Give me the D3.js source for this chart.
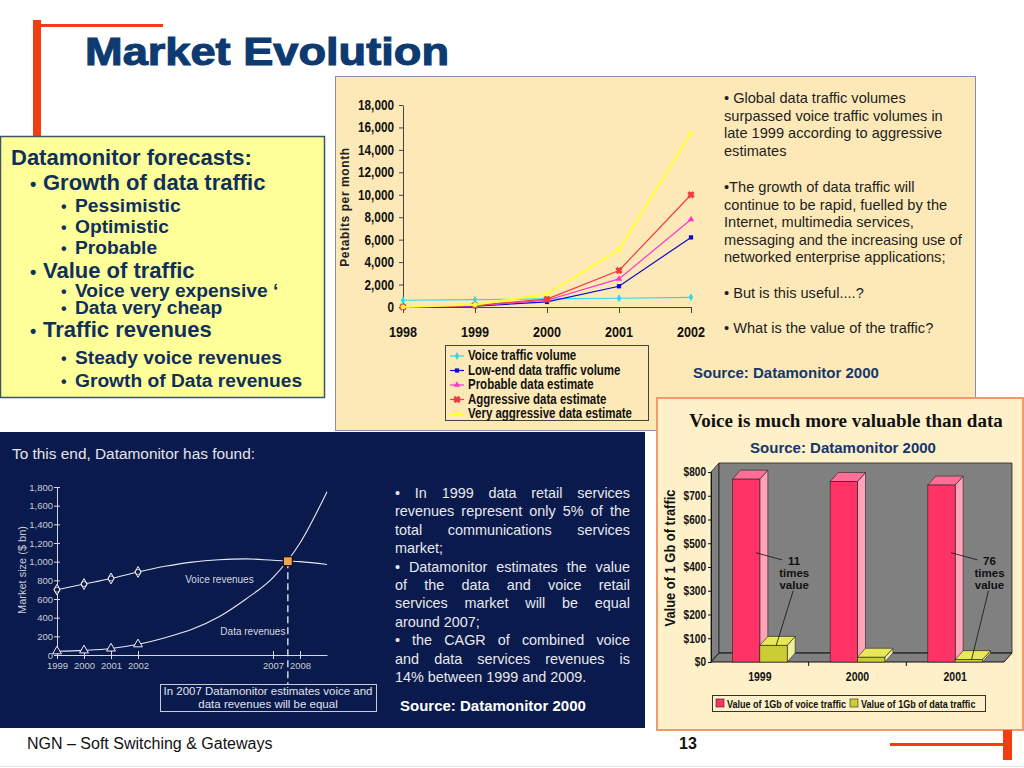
<!DOCTYPE html>
<html>
<head>
<meta charset="utf-8">
<script src="https://cdnjs.cloudflare.com/ajax/libs/d3/7.8.5/d3.min.js"></script>
<style>
body { margin: 0; background: #fff; }
svg { display: block; font-family: Arial, "Liberation Sans", sans-serif; }
.narrow { font-family: "Liberation Sans", Arial, sans-serif; font-weight: bold; }
</style>
</head>
<body>
<script>
// ---- traffic volumes (Petabits per month)
const trafficYears = [1998, 1999, 2000, 2001, 2002];
const voiceTraffic = [600, 660, 720, 780, 860];
const lowEndTraffic = [0, 80, 450, 1850, 6200];
const probableTraffic = [0, 120, 600, 2500, 7800];
const aggressiveTraffic = [0, 150, 700, 3250, 10000];
const veryAggressiveTraffic = [0, 200, 1150, 5100, 15500];
const trafficNames = ["Voice traffic volume", "Low-end data traffic volume", "Probable data estimate", "Aggressive data estimate", "Very aggressive data estimate"];
const trafficTicks = [0, 2000, 4000, 6000, 8000, 10000, 12000, 14000, 16000, 18000];

// ---- value of 1Gb of traffic ($)
const valueYears = ["1999", "2000", "2001"];
const voiceValue = [770, 760, 745];
const dataValue = [70, 20, 10];
const valueTicks = [0, 100, 200, 300, 400, 500, 600, 700, 800];
const valueNames = ["Value of 1Gb of voice traffic", "Value of 1Gb of data traffic"];
const timesValue = [["1999", "11"], ["2001", "76"]];

// ---- revenues ($ bn)
const revenueYears = [1999, 2000, 2001, 2002, 2003, 2004, 2005, 2006, 2007, 2008, 2009];
const voiceRevenue = [700, 760, 820, 890, 950, 995, 1020, 1030, 1015, 1000, 970];
const dataRevenue = [40, 50, 70, 115, 185, 275, 410, 600, 830, 1200, 1750];
const observedYears = [1999, 2000, 2001, 2002];
const revenueTickYears = [1999, 2000, 2001, 2002, 2007, 2008];
const revenueTicks = [0, 200, 400, 600, 800, 1000, 1200, 1400, 1600, 1800];
const equalYear = 2007.55, equalValue = 1005;

// ---- texts
const forecastLines = ["Datamonitor forecasts:", "Growth of data traffic", "Pessimistic", "Optimistic", "Probable",
  "Value of traffic", "Voice very expensive ‘", "Data very cheap", "Traffic revenues", "Steady voice revenues", "Growth of Data revenues"];
const forecastLevels = [0, 1, 2, 2, 2, 1, 2, 2, 1, 2, 2];
const forecastY = [165, 190, 212, 233, 254, 278, 297, 314, 337, 364, 387];

const trafficNotes = [
  ["• Global data traffic volumes", "surpassed voice traffic volumes in", "late 1999 according to aggressive", "estimates"],
  ["•The growth of data traffic will", "continue to be rapid, fuelled by the", "Internet, multimedia services,", "messaging and the increasing use of", "networked enterprise applications;"],
  ["• But is this useful....?"],
  ["• What is the value of the traffic?"]
];
const trafficNotesY = [103, 192, 298, 333];

const revenueNotes = [
  ["• In 1999 data retail services", "revenues represent only 5% of the", "total communications services", "market;"],
  ["• Datamonitor estimates the value", "of the data and voice retail", "services market will be equal", "around 2007;"],
  ["• the CAGR of combined voice", "and data services revenues is", "14% between 1999 and 2009."]
];

const svg = d3.select("body").append("svg").attr("width", 1024).attr("height", 768);

// squeeze bold text to look like Arial Narrow
function condense(sel, f = 0.84) {
  sel.each(function () {
    const w = this.getComputedTextLength();
    d3.select(this).attr("textLength", w * f).attr("lengthAdjust", "spacingAndGlyphs");
  });
  return sel;
}

// ---------- slide decoration
svg.append("rect").attr("x", 33).attr("y", 20).attr("width", 8).attr("height", 130).attr("fill", "#f23c12");
svg.append("rect").attr("x", 41).attr("y", 24).attr("width", 122).attr("height", 3).attr("fill", "#f23c12");
svg.append("text").attr("x", 85).attr("y", 65).attr("font-size", 39).attr("font-weight", "bold")
  .attr("fill", "#0d3a70").attr("stroke", "#0d3a70").attr("stroke-width", 1.1)
  .attr("textLength", 364).attr("lengthAdjust", "spacingAndGlyphs").text("Market Evolution");

// ---------- left yellow box
const left = svg.append("g");
left.append("rect").attr("x", 0.5).attr("y", 136.5).attr("width", 324).attr("height", 261)
  .attr("fill", "#ffff99").attr("stroke", "#3d5366").attr("stroke-width", 1.5);
forecastLines.forEach((t, i) => {
  const lvl = forecastLevels[i];
  const size = lvl === 2 ? 19.2 : 22;
  const tx = [11, 43, 75][lvl];
  if (lvl > 0) {
    left.append("text").attr("x", lvl === 1 ? 30 : 61).attr("y", forecastY[i]).attr("font-size", lvl === 1 ? 18 : 16)
      .attr("font-weight", "bold").attr("fill", "#0f2f5c").text("•");
  }
  left.append("text").attr("x", tx).attr("y", forecastY[i]).attr("font-size", size)
    .attr("font-weight", "bold").attr("fill", "#0f2f5c").text(t);
});

// ---------- top right panel: traffic volume chart
const tr = svg.append("g");
tr.append("rect").attr("x", 335.5).attr("y", 76.5).attr("width", 640).attr("height", 354)
  .attr("fill", "#fde9b7").attr("stroke", "#8391a6");

const tx = d3.scalePoint(trafficYears, [403, 691]);
const ty = d3.scaleLinear([0, 18000], [307, 105]);
const trafficColors = ["#2fd8ea", "#0a0ad0", "#ff33cc", "#f03c3c", "#ffff33"];
const trafficSymbols = [d3.symbolDiamond, d3.symbolSquare, d3.symbolTriangle, d3.symbolCross, d3.symbolCircle];
const trafficSeries = [voiceTraffic, lowEndTraffic, probableTraffic, aggressiveTraffic, veryAggressiveTraffic];

const yAx = tr.append("g").attr("transform", "translate(403,0)")
  .call(d3.axisLeft(ty).tickValues(trafficTicks).tickFormat(d3.format(",")).tickSize(4).tickSizeOuter(0));
const xAx = tr.append("g").attr("transform", "translate(0,307)")
  .call(d3.axisBottom(tx).tickSize(6).tickSizeOuter(0).tickFormat(""));
[yAx, xAx].forEach(a => { a.select(".domain").attr("stroke", "#444"); a.selectAll(".tick line").attr("stroke", "#444"); });
condense(yAx.selectAll("text").attr("class", "narrow").attr("font-size", 14).attr("fill", "#111").attr("x", -9));
trafficYears.forEach(yr => {
  condense(tr.append("text").attr("class", "narrow").attr("x", tx(yr)).attr("y", 337).attr("font-size", 15)
    .attr("text-anchor", "middle").attr("fill", "#111").text(yr));
});
tr.append("text").attr("transform", "translate(349,207) rotate(-90)").attr("text-anchor", "middle")
  .attr("font-size", 12).attr("font-weight", "bold").attr("letter-spacing", 0.6).attr("fill", "#222").text("Petabits per month");

const tline = d3.line().x((d, i) => tx(trafficYears[i])).y(d => ty(d));
trafficSeries.forEach((vals, s) => {
  tr.append("path").datum(vals).attr("d", tline).attr("fill", "none")
    .attr("stroke", trafficColors[s]).attr("stroke-width", s === 4 ? 2 : 1.2);
  tr.selectAll(null).data(vals).join("path")
    .attr("transform", (d, i) => `translate(${tx(trafficYears[i])},${ty(d)})${s === 3 ? " rotate(45)" : ""}`)
    .attr("d", d3.symbol(trafficSymbols[s], s === 3 ? 22 : 18))
    .attr("fill", trafficColors[s]).attr("stroke", s === 3 ? trafficColors[s] : "none");
});

// legend
const lg = tr.append("g");
lg.append("rect").attr("x", 445.5).attr("y", 345.5).attr("width", 203).attr("height", 75)
  .attr("fill", "#fde9b7").attr("stroke", "#444");
trafficNames.forEach((n, i) => {
  const yy = 360 + i * 14.5;
  lg.append("line").attr("x1", 450).attr("x2", 464).attr("y1", yy - 4).attr("y2", yy - 4)
    .attr("stroke", trafficColors[i]).attr("stroke-width", i === 4 ? 2 : 1.2);
  lg.append("path").attr("transform", `translate(457,${yy - 4})${i === 3 ? " rotate(45)" : ""}`)
    .attr("d", d3.symbol(trafficSymbols[i], i === 3 ? 22 : 18)).attr("fill", trafficColors[i])
    .attr("stroke", i === 3 ? trafficColors[i] : "none");
  condense(lg.append("text").attr("class", "narrow").attr("x", 468).attr("y", yy).attr("font-size", 14)
    .attr("fill", "#111").text(n), 0.82);
});

// notes
trafficNotes.forEach((par, p) => {
  par.forEach((line, i) => {
    tr.append("text").attr("x", 724).attr("y", trafficNotesY[p] + i * 17.6).attr("font-size", 14.6)
      .attr("fill", "#1e1e1e").text(line);
  });
});
tr.append("text").attr("x", 693).attr("y", 378).attr("font-size", 15).attr("font-weight", "bold")
  .attr("fill", "#15376b").text("Source: Datamonitor 2000");

// ---------- bottom left dark panel: revenues
const bl = svg.append("g");
bl.append("rect").attr("x", 0).attr("y", 432).attr("width", 645).attr("height", 296).attr("fill", "#0a1a4c");
bl.append("text").attr("x", 12).attr("y", 459).attr("font-size", 15.4).attr("fill", "#e4e4ea")
  .text("To this end, Datamonitor has found:");

const rx = d3.scaleLinear([1999, 2009], [57, 327]);
const ry = d3.scaleLinear([0, 1800], [655, 487]);
const ryAx = bl.append("g").attr("transform", "translate(57,0)")
  .call(d3.axisLeft(ry).tickValues(revenueTicks).tickFormat(d3.format(",")).tickSize(3).tickSizeOuter(0));
const rxAx = bl.append("g").attr("transform", "translate(0,655)")
  .call(d3.axisBottom(rx).tickValues(revenueTickYears).tickFormat(d3.format("d")).tickSize(4).tickSizeOuter(0));
[ryAx, rxAx].forEach(a => {
  a.select(".domain").attr("stroke", "#d8d8e0");
  a.selectAll(".tick line").attr("stroke", "#d8d8e0");
  a.selectAll("text").attr("fill", "#c8cad6").attr("font-size", 9.5).attr("font-family", "Arial, 'Liberation Sans', sans-serif");
});
ryAx.selectAll(".tick line").attr("x1", 3);
ryAx.selectAll("text").attr("x", -4);
rxAx.selectAll(".tick line").attr("y1", -4).attr("y2", 4);
rxAx.selectAll("text").attr("y", 7);
bl.append("text").attr("transform", "translate(26,570) rotate(-90)").attr("text-anchor", "middle")
  .attr("font-size", 11).attr("fill", "#c8cad6").text("Market size ($ bn)");

const rline = d3.line().x((d, i) => rx(revenueYears[i])).y(d => ry(d)).curve(d3.curveMonotoneX);
[voiceRevenue, dataRevenue].forEach(vals => {
  bl.append("path").datum(vals).attr("d", rline).attr("fill", "none").attr("stroke", "#e6e8f0").attr("stroke-width", 1.1);
});
observedYears.forEach((yr, i) => {
  bl.append("path").attr("transform", `translate(${rx(yr)},${ry(voiceRevenue[i])})`)
    .attr("d", d3.symbol(d3.symbolDiamond, 34)).attr("fill", "#0a1a4c").attr("stroke", "#f0f0f0");
  bl.append("circle").attr("cx", rx(yr)).attr("cy", ry(voiceRevenue[i])).attr("r", 2.6)
    .attr("fill", "none").attr("stroke", "#f0f0f0").attr("stroke-width", 0.8);
  bl.append("path").attr("transform", `translate(${rx(yr)},${ry(dataRevenue[i])})`)
    .attr("d", d3.symbol(d3.symbolTriangle, 34)).attr("fill", "#0a1a4c").attr("stroke", "#f0f0f0");
});
bl.append("text").attr("x", rx(2003.75)).attr("y", ry(772)).attr("font-size", 10).attr("fill", "#d4d6e0").text("Voice revenues");
bl.append("text").attr("x", rx(2005.05)).attr("y", ry(214)).attr("font-size", 10).attr("fill", "#d4d6e0").text("Data revenues");
bl.append("line").attr("x1", rx(equalYear)).attr("x2", rx(equalYear)).attr("y1", ry(equalValue)).attr("y2", 684)
  .attr("stroke", "#f0f0f0").attr("stroke-width", 1.3).attr("stroke-dasharray", "7,4");
bl.append("rect").attr("x", rx(equalYear) - 4.5).attr("y", ry(equalValue) - 4.5).attr("width", 9).attr("height", 9)
  .attr("fill", "#f6a24a").attr("stroke", "#111").attr("stroke-width", 1.2);
bl.append("rect").attr("x", 160.5).attr("y", 684.5).attr("width", 216).attr("height", 27)
  .attr("fill", "none").attr("stroke", "#c8cad6");
["In 2007 Datamonitor estimates voice and", "data revenues will be equal"].forEach((t, i) => {
  bl.append("text").attr("x", 268).attr("y", 695 + i * 12.5).attr("text-anchor", "middle")
    .attr("font-size", 11.5).attr("fill", "#e0e2ea").text(t);
});

// justified notes
function justified(g, paragraphs, x0, x1, y0, lh) {
  let y = y0;
  paragraphs.forEach(par => {
    par.forEach((line, i) => {
      const words = line.split(" ");
      const t = g.append("text").attr("y", y).attr("font-size", 14.4).attr("fill", "#e8e8ee");
      if (i === par.length - 1) {
        t.attr("x", x0).text(line);
      } else {
        const spans = words.map(w => t.append("tspan").text(w));
        const widths = spans.map(s => s.node().getComputedTextLength());
        const gap = (x1 - x0 - d3.sum(widths)) / (words.length - 1);
        let x = x0;
        spans.forEach((s, k) => { s.attr("x", x); x += widths[k] + gap; });
      }
      y += lh;
    });
  });
}
justified(bl, revenueNotes, 395, 630, 498, 18.4);
bl.append("text").attr("x", 400).attr("y", 711).attr("font-size", 15).attr("font-weight", "bold")
  .attr("fill", "#ffffff").text("Source: Datamonitor 2000");

// ---------- bottom right panel: value of traffic (3D columns)
const br = svg.append("g");
br.append("rect").attr("x", 657).attr("y", 398).attr("width", 366).attr("height", 332)
  .attr("fill", "#fef0c9").attr("stroke", "#f39a6b").attr("stroke-width", 2);
br.append("text").attr("x", 846).attr("y", 427).attr("text-anchor", "middle").attr("font-family", "'Liberation Serif', 'Times New Roman', serif")
  .attr("font-size", 19).attr("font-weight", "bold").attr("fill", "#111").text("Voice is much more valuable than data");
br.append("text").attr("x", 843).attr("y", 453).attr("text-anchor", "middle").attr("font-size", 15).attr("font-weight", "bold")
  .attr("fill", "#15376b").text("Source: Datamonitor 2000");

const dx = 8, dy = -9;
const bx = d3.scaleBand(valueYears, [711, 1004]).paddingInner(0.44).paddingOuter(0.22);
const bsub = d3.scaleBand(["voice", "data"], [0, bx.bandwidth()]);
const by = d3.scaleLinear([0, 800], [662, 472]);
const [x0, x1] = bx.range();
const poly = pts => pts.map(p => p.join(",")).join(" ");

// walls and floor
br.append("polygon").attr("points", poly([[x0, by(800)], [x0 + dx, by(800) + dy], [x0 + dx, by(0) + dy], [x0, by(0)]]))
  .attr("fill", "#808080").attr("stroke", "#222").attr("stroke-width", 0.8);
br.append("polygon").attr("points", poly([[x0 + dx, by(800) + dy], [x1 + dx, by(800) + dy], [x1 + dx, by(0) + dy], [x0 + dx, by(0) + dy]]))
  .attr("fill", "#808080").attr("stroke", "#222").attr("stroke-width", 0.8);
br.append("polygon").attr("points", poly([[x0, by(0)], [x0 + dx, by(0) + dy], [x1 + dx, by(0) + dy], [x1, by(0)]]))
  .attr("fill", "#808080").attr("stroke", "#111").attr("stroke-width", 1);

const byAx = br.append("g").attr("transform", `translate(${x0},0)`)
  .call(d3.axisLeft(by).tickValues(valueTicks).tickFormat(d => "$" + d).tickSize(3).tickSizeOuter(0));
byAx.select(".domain").attr("stroke", "#111");
byAx.selectAll(".tick line").attr("stroke", "#111");
condense(byAx.selectAll("text").attr("class", "narrow").attr("font-size", 12).attr("fill", "#111").attr("x", -5));
const bxAx = br.append("g").attr("transform", `translate(0,${by(0)})`)
  .call(d3.axisBottom(bx).tickSize(0).tickSizeOuter(0));
bxAx.select(".domain").remove();
condense(bxAx.selectAll("text").attr("class", "narrow").attr("font-size", 12.5).attr("fill", "#111").attr("y", 10));
valueYears.slice(1).forEach(c => {
  const xs = bx(c) - bx.step() * bx.paddingInner() / 2;
  br.append("line").attr("x1", xs).attr("x2", xs).attr("y1", by(0)).attr("y2", by(0) + 4).attr("stroke", "#111");
});
condense(br.append("text").attr("class", "narrow").attr("transform", "translate(675,558) rotate(-90)")
  .attr("text-anchor", "middle").attr("font-size", 15).attr("fill", "#111").text("Value of 1 Gb of traffic"), 0.86);

const faces = {
  voice: { front: "#ff3366", top: "#ff6f95", side: "#ffa3b9" },
  data: { front: "#cccc33", top: "#e8e85a", side: "#f0f09a" }
};
valueYears.forEach((c, i) => {
  [["voice", voiceValue[i]], ["data", dataValue[i]]].forEach(([k, v]) => {
    const xa = bx(c) + bsub(k), w = bsub.bandwidth(), yt = by(v), yb = by(0);
    br.append("polygon").attr("points", poly([[xa + w, yt], [xa + w + dx, yt + dy], [xa + w + dx, yb + dy], [xa + w, yb]]))
      .attr("fill", faces[k].side).attr("stroke", "#222").attr("stroke-width", 0.6);
    br.append("polygon").attr("points", poly([[xa, yt], [xa + dx, yt + dy], [xa + w + dx, yt + dy], [xa + w, yt]]))
      .attr("fill", faces[k].top).attr("stroke", "#222").attr("stroke-width", 0.6);
    br.append("rect").attr("x", xa).attr("y", yt).attr("width", w).attr("height", yb - yt)
      .attr("fill", faces[k].front).attr("stroke", "#222").attr("stroke-width", 0.6);
  });
});

// "times value" call-outs
timesValue.forEach(([c, n]) => {
  const i = valueYears.indexOf(c);
  const w = bsub.bandwidth();
  const cx = bx(c) + bx.bandwidth() + 7;
  [n, "times", "value"].forEach((t, k) => {
    br.append("text").attr("x", cx).attr("y", by(410) + k * 12).attr("text-anchor", "middle")
      .attr("font-size", 11.5).attr("font-weight", "bold").attr("fill", "#111").text(t);
  });
  br.append("line").attr("x1", cx - 12).attr("y1", by(430)).attr("x2", bx(c) + w * 0.85).attr("y2", by(460))
    .attr("stroke", "#111").attr("stroke-width", 0.8);
  br.append("line").attr("x1", cx - 1).attr("y1", by(300)).attr("x2", bx(c) + bsub("data") + w * 0.6).attr("y2", by(dataValue[i]))
    .attr("stroke", "#111").attr("stroke-width", 0.8);
});

// legend
br.append("rect").attr("x", 712.5).attr("y", 695.5).attr("width", 273).attr("height", 16)
  .attr("fill", "#fef0c9").attr("stroke", "#333");
const legendX = [716, 850];
valueNames.forEach((n, i) => {
  br.append("rect").attr("x", legendX[i]).attr("y", 699).attr("width", 8).attr("height", 8)
    .attr("fill", i === 0 ? faces.voice.front : faces.data.front).attr("stroke", "#222").attr("stroke-width", 0.6);
  condense(br.append("text").attr("class", "narrow").attr("x", legendX[i] + 11).attr("y", 707.5).attr("font-size", 10.5)
    .attr("fill", "#111").text(n), 0.86);
});

// ---------- footer
svg.append("text").attr("x", 27).attr("y", 749).attr("font-size", 16).attr("fill", "#111").text("NGN – Soft Switching & Gateways");
svg.append("text").attr("x", 679).attr("y", 749).attr("font-size", 16).attr("font-weight", "bold").attr("fill", "#111").text("13");
svg.append("rect").attr("x", 890).attr("y", 743).attr("width", 116).attr("height", 3).attr("fill", "#f23c12");
svg.append("rect").attr("x", 1003).attr("y", 730).attr("width", 9).attr("height", 30).attr("fill", "#f23c12");
svg.append("line").attr("x1", 0).attr("x2", 1024).attr("y1", 766.5).attr("y2", 766.5).attr("stroke", "#e4e4e4");
</script>
</body>
</html>
